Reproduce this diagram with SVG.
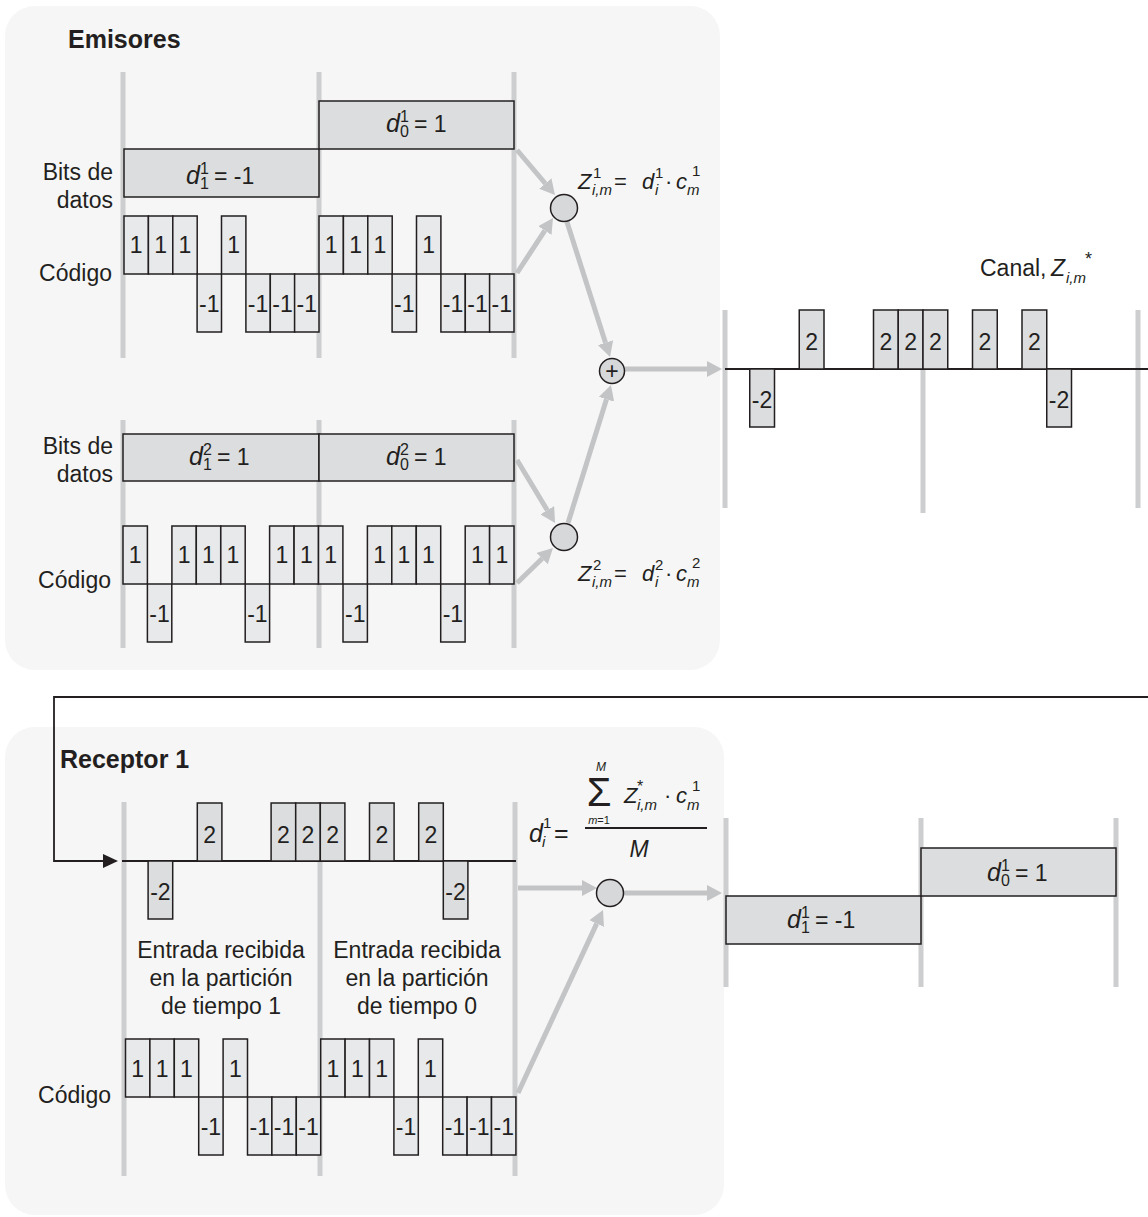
<svg xmlns="http://www.w3.org/2000/svg" width="1148" height="1217" viewBox="0 0 1148 1217">
<style>
svg{font-size:23px}
.panel{fill:#f6f6f6}
.bar{stroke:#cdced0;stroke-width:5}
.chip{fill:#e8e9eb;stroke:#231f20;stroke-width:1.5}
.box{fill:#dcdddf;stroke:#231f20;stroke-width:1.5}
.axis{stroke:#231f20;stroke-width:1.8}
.arr{stroke:#c3c4c6;stroke-width:5;fill:none;marker-end:url(#ah)}
.node{fill:#d7d8da;stroke:#231f20;stroke-width:1.5}
text{font-family:"Liberation Sans",Arial,sans-serif;fill:#231f20}
.c{text-anchor:middle}
.r{text-anchor:end}
.b{font-weight:bold;font-size:25px}
.i{font-style:italic}
.d{font-size:25px}
.s{font-size:16px}
.f{font-size:22px}
.fs{font-size:15px}
</style>
<defs>
<marker id="ah" markerUnits="userSpaceOnUse" markerWidth="15" markerHeight="16" refX="0" refY="8" orient="auto"><path d="M0,0 L15,8 L0,16 z" fill="#c3c4c6"/></marker>
</defs>
<rect width="1148" height="1217" fill="#ffffff"/>

<g id="panel-emisores">
<rect class="panel" x="5" y="6" width="715" height="664" rx="30"/>
<text class="b" x="68" y="48">Emisores</text>
</g>
<g id="panel-receptor">
<rect class="panel" x="5" y="727" width="719" height="488" rx="30"/>
<text class="b" x="60" y="768">Receptor 1</text>
</g>

<g id="emisor1">
<line class="bar" x1="123" y1="72" x2="123" y2="358"/>
<line class="bar" x1="319" y1="72" x2="319" y2="358"/>
<line class="bar" x1="514" y1="72" x2="514" y2="358"/>
<text class="r" x="113" y="180">Bits de</text>
<text class="r" x="113" y="208">datos</text>
<text class="r" x="112" y="281">Código</text>
<rect class="box" x="124" y="149" width="195" height="48"/>
<rect class="box" x="319" y="101" width="195" height="48"/>
<text class="i d" x="186" y="184">d</text><text class="s" x="200" y="174">1</text><text class="s" x="200" y="189">1</text><text x="214" y="184">= -1</text>
<text class="i d" x="386" y="132">d</text><text class="s" x="400" y="122">1</text><text class="s" x="400" y="137">0</text><text x="414" y="132">= 1</text>
<g id="codigo1">
<rect class="chip" x="124" y="216" width="24.4" height="58"/>
<rect class="chip" x="148.4" y="216" width="24.4" height="58"/>
<rect class="chip" x="172.8" y="216" width="24.4" height="58"/>
<rect class="chip" x="197.1" y="274" width="24.4" height="58"/>
<rect class="chip" x="221.5" y="216" width="24.4" height="58"/>
<rect class="chip" x="245.9" y="274" width="24.4" height="58"/>
<rect class="chip" x="270.3" y="274" width="24.4" height="58"/>
<rect class="chip" x="294.6" y="274" width="24.4" height="58"/>
<rect class="chip" x="319" y="216" width="24.4" height="58"/>
<rect class="chip" x="343.4" y="216" width="24.4" height="58"/>
<rect class="chip" x="367.8" y="216" width="24.4" height="58"/>
<rect class="chip" x="392.1" y="274" width="24.4" height="58"/>
<rect class="chip" x="416.5" y="216" width="24.4" height="58"/>
<rect class="chip" x="440.9" y="274" width="24.4" height="58"/>
<rect class="chip" x="465.3" y="274" width="24.4" height="58"/>
<rect class="chip" x="489.6" y="274" width="24.4" height="58"/>
<text class="c" x="136.2" y="253">1</text>
<text class="c" x="160.6" y="253">1</text>
<text class="c" x="185" y="253">1</text>
<text class="c" x="209.3" y="312">-1</text>
<text class="c" x="233.7" y="253">1</text>
<text class="c" x="258.1" y="312">-1</text>
<text class="c" x="282.5" y="312">-1</text>
<text class="c" x="306.8" y="312">-1</text>
<text class="c" x="331.2" y="253">1</text>
<text class="c" x="355.6" y="253">1</text>
<text class="c" x="380" y="253">1</text>
<text class="c" x="404.3" y="312">-1</text>
<text class="c" x="428.7" y="253">1</text>
<text class="c" x="453.1" y="312">-1</text>
<text class="c" x="477.5" y="312">-1</text>
<text class="c" x="501.8" y="312">-1</text>
</g>
</g>

<g id="emisor2">
<line class="bar" x1="123" y1="420" x2="123" y2="648"/>
<line class="bar" x1="319" y1="420" x2="319" y2="648"/>
<line class="bar" x1="514" y1="420" x2="514" y2="648"/>
<text class="r" x="113" y="454">Bits de</text>
<text class="r" x="113" y="482">datos</text>
<text class="r" x="111" y="588">Código</text>
<rect class="box" x="123" y="434" width="196" height="47"/>
<rect class="box" x="319" y="434" width="195" height="47"/>
<text class="i d" x="189" y="465">d</text><text class="s" x="203" y="455">2</text><text class="s" x="203" y="470">1</text><text x="217" y="465">= 1</text>
<text class="i d" x="386" y="465">d</text><text class="s" x="400" y="455">2</text><text class="s" x="400" y="470">0</text><text x="414" y="465">= 1</text>
<g id="codigo2">
<rect class="chip" x="123" y="526" width="24.4" height="58"/>
<rect class="chip" x="147.4" y="584" width="24.4" height="58"/>
<rect class="chip" x="171.9" y="526" width="24.4" height="58"/>
<rect class="chip" x="196.3" y="526" width="24.4" height="58"/>
<rect class="chip" x="220.8" y="526" width="24.4" height="58"/>
<rect class="chip" x="245.2" y="584" width="24.4" height="58"/>
<rect class="chip" x="269.6" y="526" width="24.4" height="58"/>
<rect class="chip" x="294.1" y="526" width="24.4" height="58"/>
<rect class="chip" x="318.5" y="526" width="24.4" height="58"/>
<rect class="chip" x="343" y="584" width="24.4" height="58"/>
<rect class="chip" x="367.4" y="526" width="24.4" height="58"/>
<rect class="chip" x="391.8" y="526" width="24.4" height="58"/>
<rect class="chip" x="416.3" y="526" width="24.4" height="58"/>
<rect class="chip" x="440.7" y="584" width="24.4" height="58"/>
<rect class="chip" x="465.2" y="526" width="24.4" height="58"/>
<rect class="chip" x="489.6" y="526" width="24.4" height="58"/>
<text class="c" x="135.2" y="563">1</text>
<text class="c" x="159.6" y="622">-1</text>
<text class="c" x="184.1" y="563">1</text>
<text class="c" x="208.5" y="563">1</text>
<text class="c" x="233" y="563">1</text>
<text class="c" x="257.4" y="622">-1</text>
<text class="c" x="281.8" y="563">1</text>
<text class="c" x="306.3" y="563">1</text>
<text class="c" x="330.7" y="563">1</text>
<text class="c" x="355.2" y="622">-1</text>
<text class="c" x="379.6" y="563">1</text>
<text class="c" x="404" y="563">1</text>
<text class="c" x="428.5" y="563">1</text>
<text class="c" x="452.9" y="622">-1</text>
<text class="c" x="477.4" y="563">1</text>
<text class="c" x="501.8" y="563">1</text>
</g>
</g>

<g id="canal">
<line class="bar" x1="725" y1="310" x2="725" y2="508"/>
<line class="bar" x1="923" y1="310" x2="923" y2="513"/>
<line class="bar" x1="1138" y1="310" x2="1138" y2="508"/>
<line class="axis" x1="725" y1="369" x2="1148" y2="369"/>
<text x="980" y="276">Canal,</text>
<text class="i" x="1051" y="276">Z</text><text class="i" x="1066" y="283" style="font-size:15px">i,m</text><text x="1085" y="265" style="font-size:18px">*</text>
<rect class="box" x="749.75" y="369" width="24.75" height="58"/>
<rect class="box" x="799.25" y="310" width="24.75" height="59"/>
<rect class="box" x="873.5" y="310" width="24.75" height="59"/>
<rect class="box" x="898.25" y="310" width="24.75" height="59"/>
<rect class="box" x="923" y="310" width="24.75" height="59"/>
<rect class="box" x="972.5" y="310" width="24.75" height="59"/>
<rect class="box" x="1022" y="310" width="24.75" height="59"/>
<rect class="box" x="1046.75" y="369" width="24.75" height="58"/>
<text class="c" x="762.1" y="408">-2</text>
<text class="c" x="811.6" y="350">2</text>
<text class="c" x="885.9" y="350">2</text>
<text class="c" x="910.6" y="350">2</text>
<text class="c" x="935.4" y="350">2</text>
<text class="c" x="984.9" y="350">2</text>
<text class="c" x="1034.4" y="350">2</text>
<text class="c" x="1059.1" y="408">-2</text>
</g>

<g id="receptor-entrada">
<line class="bar" x1="124" y1="802" x2="124" y2="1176"/>
<line class="bar" x1="320" y1="802" x2="320" y2="1176"/>
<line class="bar" x1="515" y1="802" x2="515" y2="1176"/>
<line class="axis" x1="122" y1="861" x2="516" y2="861"/>
<rect class="box" x="148.1" y="861" width="24.6" height="58"/>
<rect class="box" x="197.3" y="803" width="24.6" height="58"/>
<rect class="box" x="271.1" y="803" width="24.6" height="58"/>
<rect class="box" x="295.7" y="803" width="24.6" height="58"/>
<rect class="box" x="320.3" y="803" width="24.6" height="58"/>
<rect class="box" x="369.5" y="803" width="24.6" height="58"/>
<rect class="box" x="418.7" y="803" width="24.6" height="58"/>
<rect class="box" x="443.3" y="861" width="24.6" height="58"/>
<text class="c" x="160.4" y="900">-2</text>
<text class="c" x="209.6" y="843">2</text>
<text class="c" x="283.4" y="843">2</text>
<text class="c" x="308" y="843">2</text>
<text class="c" x="332.6" y="843">2</text>
<text class="c" x="381.8" y="843">2</text>
<text class="c" x="431" y="843">2</text>
<text class="c" x="455.6" y="900">-2</text>
<text class="c" x="221" y="958">Entrada recibida</text>
<text class="c" x="221" y="986">en la partición</text>
<text class="c" x="221" y="1014">de tiempo 1</text>
<text class="c" x="417" y="958">Entrada recibida</text>
<text class="c" x="417" y="986">en la partición</text>
<text class="c" x="417" y="1014">de tiempo 0</text>
</g>

<g id="receptor-codigo">
<text class="r" x="111" y="1103">Código</text>
<rect class="chip" x="125.5" y="1039" width="24.4" height="58"/>
<rect class="chip" x="149.9" y="1039" width="24.4" height="58"/>
<rect class="chip" x="174.3" y="1039" width="24.4" height="58"/>
<rect class="chip" x="198.7" y="1097" width="24.4" height="58"/>
<rect class="chip" x="223.1" y="1039" width="24.4" height="58"/>
<rect class="chip" x="247.5" y="1097" width="24.4" height="58"/>
<rect class="chip" x="271.9" y="1097" width="24.4" height="58"/>
<rect class="chip" x="296.3" y="1097" width="24.4" height="58"/>
<rect class="chip" x="320.7" y="1039" width="24.4" height="58"/>
<rect class="chip" x="345.1" y="1039" width="24.4" height="58"/>
<rect class="chip" x="369.5" y="1039" width="24.4" height="58"/>
<rect class="chip" x="393.9" y="1097" width="24.4" height="58"/>
<rect class="chip" x="418.3" y="1039" width="24.4" height="58"/>
<rect class="chip" x="442.7" y="1097" width="24.4" height="58"/>
<rect class="chip" x="467.1" y="1097" width="24.4" height="58"/>
<rect class="chip" x="491.5" y="1097" width="24.4" height="58"/>
<text class="c" x="137.7" y="1077">1</text>
<text class="c" x="162.1" y="1077">1</text>
<text class="c" x="186.5" y="1077">1</text>
<text class="c" x="210.9" y="1135">-1</text>
<text class="c" x="235.3" y="1077">1</text>
<text class="c" x="259.7" y="1135">-1</text>
<text class="c" x="284.1" y="1135">-1</text>
<text class="c" x="308.5" y="1135">-1</text>
<text class="c" x="332.9" y="1077">1</text>
<text class="c" x="357.3" y="1077">1</text>
<text class="c" x="381.7" y="1077">1</text>
<text class="c" x="406.1" y="1135">-1</text>
<text class="c" x="430.5" y="1077">1</text>
<text class="c" x="454.9" y="1135">-1</text>
<text class="c" x="479.3" y="1135">-1</text>
<text class="c" x="503.7" y="1135">-1</text>
</g>

<g id="salida">
<line class="bar" x1="726" y1="818" x2="726" y2="987"/>
<line class="bar" x1="921" y1="818" x2="921" y2="987"/>
<line class="bar" x1="1116" y1="818" x2="1116" y2="987"/>
<rect class="box" x="726" y="896" width="195" height="48"/>
<rect class="box" x="921" y="848" width="195" height="48"/>
<text class="i d" x="787" y="928">d</text><text class="s" x="801" y="918">1</text><text class="s" x="801" y="933">1</text><text x="815" y="928">= -1</text>
<text class="i d" x="987" y="881">d</text><text class="s" x="1001" y="871">1</text><text class="s" x="1001" y="886">0</text><text x="1015" y="881">= 1</text>
</g>

<g id="connectors">
<line class="arr" x1="517" y1="150" x2="545.3" y2="183.5"/>
<line class="arr" x1="517" y1="273" x2="544.8" y2="230.6"/>
<line class="arr" x1="567" y1="222" x2="605.5" y2="342.7"/>
<line class="arr" x1="517" y1="460" x2="547.3" y2="510.2"/>
<line class="arr" x1="517" y1="583" x2="542.2" y2="558.5"/>
<line class="arr" x1="568" y1="523" x2="606.5" y2="399.3"/>
<line class="arr" x1="625" y1="369" x2="707" y2="369"/>
<line class="arr" x1="518" y1="888" x2="582" y2="888"/>
<line class="arr" x1="518" y1="1093" x2="596.7" y2="923.6"/>
<line class="arr" x1="624" y1="893" x2="707" y2="893"/>
<polyline points="1148,697 54,697 54,861 104,861" fill="none" stroke="#231f20" stroke-width="1.8"/>
<polygon points="103,854 118,861 103,868" fill="#231f20"/>
</g>

<g id="mult1">
<circle class="node" cx="564" cy="208" r="13.5"/>
<text class="i f" x="578" y="189">Z</text><text class="fs" x="593" y="178">1</text><text class="i fs" x="592" y="195">i,m</text>
<text class="f" x="614" y="189">=</text>
<text class="i f" x="642" y="189">d</text><text class="fs" x="655" y="178">1</text><text class="i fs" x="655" y="195">i</text>
<text class="f" x="665" y="189">·</text>
<text class="i f" x="676" y="189">c</text><text class="fs" x="692" y="176">1</text><text class="i fs" x="687" y="195">m</text>
</g>
<g id="mult2">
<circle class="node" cx="564" cy="537" r="13.5"/>
<text class="i f" x="578" y="581">Z</text><text class="fs" x="593" y="570">2</text><text class="i fs" x="592" y="587">i,m</text>
<text class="f" x="614" y="581">=</text>
<text class="i f" x="642" y="581">d</text><text class="fs" x="655" y="570">2</text><text class="i fs" x="655" y="587">i</text>
<text class="f" x="665" y="581">·</text>
<text class="i f" x="676" y="581">c</text><text class="fs" x="692" y="568">2</text><text class="i fs" x="687" y="587">m</text>
</g>
<g id="suma">
<circle class="node" cx="612" cy="371" r="12.5"/>
<text class="c" x="612" y="379" style="font-size:23px">+</text>
</g>
<g id="correlador">
<circle class="node" cx="610" cy="893" r="13.5"/>
<text class="i" x="529" y="842" style="font-size:25px">d</text><text class="fs" x="543" y="828">1</text><text class="i fs" x="542" y="847">i</text>
<text x="554" y="842" style="font-size:25px">=</text>
<text class="c" x="599" y="806" style="font-size:40px">Σ</text>
<text class="c i" x="601" y="771" style="font-size:12px">M</text>
<text class="c" x="599" y="824" style="font-size:11px"><tspan font-style="italic">m</tspan>=1</text>
<text class="i f" x="624" y="803">Z</text><text x="637" y="792" style="font-size:16px">*</text><text class="i fs" x="637" y="810">i,m</text>
<text class="f" x="664" y="803">·</text>
<text class="i f" x="676" y="803">c</text><text class="fs" x="692" y="791">1</text><text class="i fs" x="687" y="810">m</text>
<line x1="585" y1="828" x2="707" y2="828" stroke="#231f20" stroke-width="1.8"/>
<text class="c i" x="639" y="857">M</text>
</g>
</svg>
